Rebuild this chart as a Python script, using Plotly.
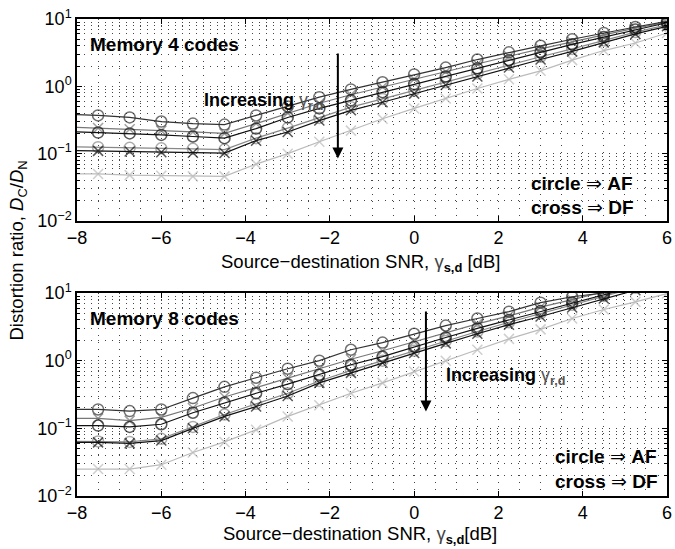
import plotly.graph_objects as go

# ---------------- data ----------------
SNR = [-8, -7.5, -6.75, -6, -5.25, -4.5, -3.75, -3, -2.25, -1.5, -0.75,
       0, 0.75, 1.5, 2.25, 3, 3.75, 4.5, 5.25, 6]

# Memory 4 codes
m4_A_af = [0.38, 0.37, 0.345, 0.30, 0.28, 0.27, 0.37, 0.50, 0.69, 0.90, 1.15,
           1.5, 1.9, 2.5, 3.2, 4.0, 5.0, 6.2, 7.6, 9.2]
m4_B_df = [0.245, 0.24, 0.23, 0.22, 0.21, 0.20, 0.28, 0.40, 0.56, 0.75, 0.98,
           1.28, 1.65, 2.15, 2.8, 3.6, 4.6, 5.8, 7.3, 9.0]
m4_C_af = [0.21, 0.206, 0.20, 0.19, 0.18, 0.17, 0.236, 0.345, 0.47, 0.62, 0.82,
           1.08, 1.4, 1.85, 2.45, 3.2, 4.2, 5.4, 7.0, 8.8]
m4_D_af = [0.126, 0.125, 0.122, 0.12, 0.118, 0.115, 0.17, 0.24, 0.34, 0.49, 0.65,
           0.87, 1.15, 1.55, 2.1, 2.75, 3.6, 4.8, 6.4, 8.2]
m4_E_df = [0.111, 0.11, 0.108, 0.105, 0.103, 0.102, 0.156, 0.21, 0.31, 0.44, 0.58,
           0.78, 1.05, 1.4, 1.9, 2.5, 3.3, 4.5, 6.0, 7.8]
m4_F_df = [0.05, 0.05, 0.048, 0.047, 0.046, 0.046, 0.07, 0.10, 0.15, 0.22, 0.33,
           0.47, 0.66, 0.93, 1.27, 1.7, 2.45, 3.4, 4.4, 6.2]

# Memory 8 codes
m8_A_af = [0.19, 0.19, 0.18, 0.19, 0.28, 0.41, 0.56, 0.76, 1.0, 1.45, 1.85,
           2.5, 3.3, 4.2, 5.3, 7.2, 8.8, 10.0, 12.5, 15.0]
m8_B_df = [0.14, 0.14, 0.13, 0.145, 0.20, 0.29, 0.40, 0.55, 0.76, 1.05, 1.4,
           1.9, 2.6, 3.5, 4.6, 6.2, 8.0, 10.5, 13.5, 17.0]
m8_C_af = [0.11, 0.11, 0.105, 0.115, 0.17, 0.24, 0.33, 0.45, 0.62, 0.87, 1.15,
           1.6, 2.2, 3.0, 4.0, 5.4, 7.2, 9.5, 12.5, 16.0]
m8_D_af = [0.064, 0.064, 0.063, 0.07, 0.105, 0.16, 0.23, 0.33, 0.50, 0.72, 1.0,
           1.4, 1.95, 2.7, 3.7, 5.0, 6.7, 9.0, 12.0, 15.0]
m8_E_df = [0.062, 0.062, 0.06, 0.066, 0.10, 0.15, 0.21, 0.30, 0.47, 0.66, 0.93,
           1.3, 1.8, 2.5, 3.4, 4.5, 6.1, 8.3, 11.0, 14.0]
m8_F_df = [0.025, 0.025, 0.025, 0.029, 0.044, 0.063, 0.095, 0.15, 0.22, 0.33, 0.47,
           0.69, 1.0, 1.45, 2.1, 2.9, 4.2, 5.7, 7.4, 9.8]

X_TICKS = [-8, -6, -4, -2, 0, 2, 4, 6]
X_TICKTEXT = ["\u22128", "\u22126", "\u22124", "\u22122", "0", "2", "4", "6"]
Y_TICKS = [0.01, 0.1, 1, 10]
Y_TICKTEXT = ["10<sup>\u22122</sup>", "10<sup>\u22121</sup>", "10<sup>0</sup>", "10<sup>1</sup>"]
Y_MINOR = [m * d for d in (0.01, 0.1, 1) for m in range(2, 10)]

# ---------------- styling ----------------
FONT = "Liberation Sans, Arial, Helvetica, sans-serif"
styles = {
    "A": dict(color="#333333", symbol="circle-open"),
    "B": dict(color="#777777", symbol="x-thin-open"),
    "C": dict(color="#111111", symbol="circle-open"),
    "D": dict(color="#888888", symbol="circle-open"),
    "E": dict(color="#111111", symbol="x-thin-open"),
    "F": dict(color="#bbbbbb", symbol="x-thin-open"),
}

fig = go.Figure()


def add(series, key, xa, ya):
    st = styles[key]
    sz = 11 if "circle" in st["symbol"] else 10
    fig.add_trace(go.Scatter(
        x=SNR, y=series, mode="lines+markers", xaxis=xa, yaxis=ya,
        line=dict(color=st["color"], width=1.2),
        marker=dict(symbol=st["symbol"], size=[0] + [sz] * (len(SNR) - 1),
                    color=st["color"], line=dict(color=st["color"], width=1.5)),
        showlegend=False, cliponaxis=True, hoverinfo="skip"))


for s, k in [(m4_F_df, "F"), (m4_D_af, "D"), (m4_B_df, "B"), (m4_A_af, "A"),
             (m4_C_af, "C"), (m4_E_df, "E")]:
    add(s, k, "x", "y")
for s, k in [(m8_F_df, "F"), (m8_D_af, "D"), (m8_B_df, "B"), (m8_A_af, "A"),
             (m8_C_af, "C"), (m8_E_df, "E")]:
    add(s, k, "x2", "y2")

GDASH = "1px,6px"
GCOL = "#444444"
GRID = dict(showgrid=True, gridcolor=GCOL, griddash=GDASH, gridwidth=1)

xcommon = dict(range=[-8, 6], tickmode="array", tickvals=X_TICKS, ticktext=X_TICKTEXT,
               ticks="inside", ticklen=5, tickcolor="black", mirror="allticks",
               showline=True, linecolor="black", linewidth=1.5, zeroline=False,
               ticklabeloverflow="allow",
               tickfont=dict(size=18, color="black", family=FONT),
               minor=dict(dtick=0.5, tick0=0, ticks="", showgrid=True,
                          gridcolor=GCOL, griddash=GDASH, gridwidth=1),
               **GRID)
ycommon = dict(type="log", range=[-2, 1], tickmode="array", tickvals=Y_TICKS, ticktext=Y_TICKTEXT,
               ticks="inside", ticklen=5, tickcolor="black", mirror="allticks",
               showline=True, linecolor="black", linewidth=1.5, zeroline=False,
               ticklabeloverflow="allow",
               tickfont=dict(size=18, color="black", family=FONT),
               minor=dict(tickmode="array", tickvals=Y_MINOR, ticks="inside", ticklen=3,
                          tickcolor="black", showgrid=True, gridcolor=GCOL,
                          griddash=GDASH, gridwidth=1),
               **GRID)

L, R, T, B = 77, 3, 19, 53
H = 549 - T - B
top_lo = (496 - 221) / H
bot_hi = (496 - 293) / H

fig.update_layout(
    width=675, height=549,
    margin=dict(l=L, r=R, t=T, b=B),
    paper_bgcolor="white", plot_bgcolor="white",
    font=dict(family=FONT, size=16, color="black"),
    xaxis=dict(domain=[0, 1], anchor="y", **xcommon),
    yaxis=dict(domain=[top_lo, 1], anchor="x", **ycommon),
    xaxis2=dict(domain=[0, 1], anchor="y2", **xcommon),
    yaxis2=dict(domain=[0, bot_hi], anchor="x2", **ycommon),
)

ann = []
big = dict(family=FONT, size=19, color="black")
mid = dict(family=FONT, size=18, color="black")
ttl = dict(family=FONT, size=18.5, color="black")
# panel labels
ann.append(dict(x=-7.75, y=0.62, xref="x", yref="y", text="<b>Memory 4 codes</b>",
                showarrow=False, xanchor="left", yanchor="middle", font=big))
ann.append(dict(x=-7.75, y=0.62, xref="x2", yref="y2", text="<b>Memory 8 codes</b>",
                showarrow=False, xanchor="left", yanchor="middle", font=big))
# increasing labels
inc = "<b>Increasing</b> <span style='color:#555555'>\u03b3<sub><b>r,d</b></sub></span>"
ann.append(dict(x=-5.04, y=-0.22, xref="x", yref="y", text=inc, showarrow=False,
                xanchor="left", yanchor="middle", font=mid))
ann.append(dict(x=0.71, y=-0.24, xref="x2", yref="y2", text=inc, showarrow=False,
                xanchor="left", yanchor="middle", font=mid))
# arrows
ann.append(dict(x=-1.81, y=-1.07, ax=-1.81, ay=0.51, xref="x", yref="y", axref="x", ayref="y",
                text="", showarrow=True, arrowhead=2, arrowsize=1.1, arrowwidth=2, arrowcolor="black"))
ann.append(dict(x=0.28, y=-0.75, ax=0.28, ay=0.75, xref="x2", yref="y2", axref="x2", ayref="y2",
                text="", showarrow=True, arrowhead=2, arrowsize=1.1, arrowwidth=2, arrowcolor="black"))
# legend text
ann.append(dict(x=2.73, y=-1.45, xref="x", yref="y", text="<b>circle</b> \u21d2 <b>AF</b>",
                showarrow=False, xanchor="left", yanchor="middle", font=big))
ann.append(dict(x=2.73, y=-1.80, xref="x", yref="y", text="<b>cross</b> \u21d2 <b>DF</b>",
                showarrow=False, xanchor="left", yanchor="middle", font=big))
ann.append(dict(x=3.29, y=-1.42, xref="x2", yref="y2", text="<b>circle</b> \u21d2 <b>AF</b>",
                showarrow=False, xanchor="left", yanchor="middle", font=big))
ann.append(dict(x=3.29, y=-1.79, xref="x2", yref="y2", text="<b>cross</b> \u21d2 <b>DF</b>",
                showarrow=False, xanchor="left", yanchor="middle", font=big))
# axis titles
ann.append(dict(x=(220 - L) / 595, y=(496 - 263) / H, xref="paper", yref="paper",
                text="Source\u2212destination SNR, <span style='color:#444'>\u03b3</span><sub><b>s,d</b></sub> [dB]",
                showarrow=False, xanchor="left", yanchor="middle", font=ttl))
ann.append(dict(x=(222 - L) / 595, y=(496 - 535) / H, xref="paper", yref="paper",
                text="Source\u2212destination SNR, <span style='color:#444'>\u03b3</span><sub><b>s,d</b></sub>[dB]",
                showarrow=False, xanchor="left", yanchor="middle", font=ttl))
ann.append(dict(x=(18 - L) / 595, y=(496 - 250) / H, xref="paper", yref="paper",
                text="Distortion ratio, <i>D</i><sub>C</sub>/<i>D</i><sub>N</sub>", textangle=-90,
                showarrow=False, xanchor="center", yanchor="middle", font=ttl))
fig.update_layout(annotations=ann)

fig.write_html("out.html", config={"displayModeBar": False},
               post_script="document.body.style.margin='0';document.body.style.overflow='hidden';")
